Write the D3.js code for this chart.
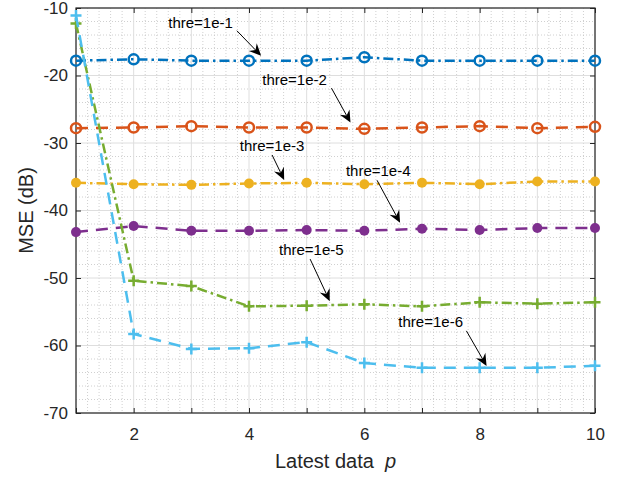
<!DOCTYPE html>
<html>
<head>
<meta charset="utf-8">
<script src="https://cdn.jsdelivr.net/npm/d3@7"></script>
<style>
  body { margin: 0; background: #fff; }
  svg { display: block; font-family: "Liberation Sans", Arial, Helvetica, sans-serif; }
</style>
</head>
<body>
<div id="chart"></div>
<script>
// values
const pValues = [1, 2, 3, 4, 5, 6, 7, 8, 9, 10];
const mse1e1 = [-17.8, -17.6, -17.8, -17.8, -17.8, -17.3, -17.8, -17.8, -17.8, -17.8];
const mse1e2 = [-27.8, -27.7, -27.5, -27.7, -27.7, -27.9, -27.7, -27.5, -27.8, -27.6];
const mse1e3 = [-35.9, -36.1, -36.2, -36.0, -35.9, -36.1, -35.9, -36.1, -35.7, -35.7];
const mse1e4 = [-43.2, -42.3, -43.0, -43.0, -42.9, -43.0, -42.7, -42.9, -42.6, -42.6];
const mse1e5 = [-12.3, -50.4, -51.2, -54.2, -54.1, -53.9, -54.2, -53.6, -53.8, -53.6];
const mse1e6 = [-11.1, -58.3, -60.5, -60.4, -59.5, -62.6, -63.3, -63.3, -63.3, -63.0];

const xTicks = [1, 2, 3, 4, 5, 6, 7, 8, 9, 10];
const xTickLabels = ["", "2", "", "4", "", "6", "", "8", "", "10"];
const yTicks = [-70, -60, -50, -40, -30, -20, -10];

// annotation: label, text anchor point, arrow tail, arrow tip (data units)
const annoLabels = ["thre=1e-1", "thre=1e-2", "thre=1e-3", "thre=1e-4", "thre=1e-5", "thre=1e-6"];
const annoText = [[2.60, -12.97], [4.23, -21.38], [3.84, -31.13], [5.68, -34.88], [4.52, -46.60], [6.59, -57.24]];
const annoTail = [[3.79, -13.37], [5.43, -21.87], [4.40, -31.77], [6.22, -35.52], [5.06, -47.20], [7.77, -57.83]];
const annoTip  = [[4.21, -17.08], [5.76, -26.97], [4.61, -35.47], [6.62, -41.81], [5.40, -53.43], [8.12, -63.03]];

const series = [
  { values: mse1e1, color: "#0072BD", dash: "10,4,2.5,4", marker: "openCircle" },
  { values: mse1e2, color: "#D95319", dash: "12,8", marker: "openCircle" },
  { values: mse1e3, color: "#EDB120", dash: "10,4,2.5,4", marker: "dot" },
  { values: mse1e4, color: "#7E2F8E", dash: "12,8", marker: "dot" },
  { values: mse1e5, color: "#77AC30", dash: "10,4,2.5,4", marker: "plus" },
  { values: mse1e6, color: "#4DBEEE", dash: "12,8", marker: "plus" }
];

const W = 620, H = 477;
const mLeft = 76, mRight = 595, mTop = 8, mBottom = 413;

const svg = d3.select("#chart").append("svg")
  .attr("width", W).attr("height", H);

const x = d3.scaleLinear().domain([1, 10]).range([mLeft, mRight]);
const y = d3.scaleLinear().domain([-70, -10]).range([mBottom, mTop]);

// minor grid
const xMinor = d3.range(1, 10.001, 0.2).filter(v => Math.abs(v - Math.round(v)) > 0.01);
const yMinor = d3.range(-70, -9.99, 2).filter(v => v % 10 !== 0);
const grid = svg.append("g");
grid.selectAll(".xm").data(xMinor).join("line")
  .attr("x1", d => x(d)).attr("x2", d => x(d)).attr("y1", mTop).attr("y2", mBottom)
  .attr("stroke", "#c4c4c4").attr("stroke-width", 0.8).attr("stroke-dasharray", "1,2");
grid.selectAll(".ym").data(yMinor).join("line")
  .attr("y1", d => y(d)).attr("y2", d => y(d)).attr("x1", mLeft).attr("x2", mRight)
  .attr("stroke", "#c4c4c4").attr("stroke-width", 0.8).attr("stroke-dasharray", "1,2");
// major grid
grid.selectAll(".xg").data(xTicks).join("line")
  .attr("x1", d => x(d)).attr("x2", d => x(d)).attr("y1", mTop).attr("y2", mBottom)
  .attr("stroke", "#dedede").attr("stroke-width", 1);
grid.selectAll(".yg").data(yTicks).join("line")
  .attr("y1", d => y(d)).attr("y2", d => y(d)).attr("x1", mLeft).attr("x2", mRight)
  .attr("stroke", "#dedede").attr("stroke-width", 1);

// axes with inward ticks on all four sides
const axisColor = "#262626";
function styleAxis(g) {
  g.select(".domain").remove();
  g.selectAll(".tick line").attr("stroke", axisColor).attr("stroke-width", 1);
  g.selectAll(".tick text").attr("fill", axisColor).attr("font-size", 17)
    .attr("font-family", "Liberation Sans, Arial, sans-serif");
}
svg.append("g").attr("transform", `translate(0,${mBottom})`)
  .call(d3.axisBottom(x).tickValues(xTicks).tickSize(-5).tickPadding(15)
    .tickFormat((d, i) => xTickLabels[i]))
  .call(styleAxis);
svg.append("g").attr("transform", `translate(0,${mTop})`)
  .call(d3.axisTop(x).tickValues(xTicks).tickSize(-5).tickFormat(""))
  .call(styleAxis);
svg.append("g").attr("transform", `translate(${mLeft},0)`)
  .call(d3.axisLeft(y).tickValues(yTicks).tickSize(-5).tickPadding(8)
    .tickFormat(d => String(d)))
  .call(styleAxis);
svg.append("g").attr("transform", `translate(${mRight},0)`)
  .call(d3.axisRight(y).tickValues(yTicks).tickSize(-5).tickFormat(""))
  .call(styleAxis);

svg.append("rect")
  .attr("x", mLeft).attr("y", mTop).attr("width", mRight - mLeft).attr("height", mBottom - mTop)
  .attr("fill", "none").attr("stroke", axisColor).attr("stroke-width", 1.2);

// series
const line = d3.line().x((d, i) => x(pValues[i])).y(d => y(d));
series.forEach(s => {
  const g = svg.append("g");
  g.append("path").datum(s.values)
    .attr("d", line).attr("fill", "none")
    .attr("stroke", s.color).attr("stroke-width", 2.5)
    .attr("stroke-dasharray", s.dash);
  const pts = g.selectAll(".pt").data(s.values).join("g")
    .attr("transform", (d, i) => `translate(${x(pValues[i])},${y(d)})`);
  if (s.marker === "openCircle") {
    pts.append("circle").attr("r", 5).attr("fill", "none")
      .attr("stroke", s.color).attr("stroke-width", 2.5);
  } else if (s.marker === "dot") {
    pts.append("circle").attr("r", 5).attr("fill", s.color);
  } else {
    pts.append("path").attr("d", "M-5.5,0H5.5M0,-5.5V5.5")
      .attr("stroke", s.color).attr("stroke-width", 2.5);
  }
});

// annotations
const anno = svg.append("g");
annoLabels.forEach((lab, i) => {
  anno.append("text")
    .attr("x", x(annoText[i][0])).attr("y", y(annoText[i][1]))
    .attr("font-size", 15).attr("fill", "#000").text(lab);
  const x0 = x(annoTail[i][0]), y0 = y(annoTail[i][1]);
  const x1 = x(annoTip[i][0]), y1 = y(annoTip[i][1]);
  const ang = Math.atan2(y1 - y0, x1 - x0);
  const len = 12, half = 5.5, notch = 8;
  anno.append("line")
    .attr("x1", x0).attr("y1", y0)
    .attr("x2", x1 - notch * Math.cos(ang)).attr("y2", y1 - notch * Math.sin(ang))
    .attr("stroke", "#000").attr("stroke-width", 1);
  const c = Math.cos(ang), sn = Math.sin(ang);
  const pt = (a, b) => [x1 + a * c - b * sn, y1 + a * sn + b * c];
  const head = [pt(0, 0), pt(-len, -half), pt(-notch, 0), pt(-len, half)];
  anno.append("path").attr("d", "M" + head.map(p => p.join(",")).join("L") + "Z")
    .attr("fill", "#000");
});

// axis labels
svg.append("text")
  .attr("x", (mLeft + mRight) / 2).attr("y", 468)
  .attr("text-anchor", "middle").attr("font-size", 20).attr("fill", axisColor)
  .call(t => {
    t.append("tspan").text("Latest data\u00a0\u00a0");
    t.append("tspan").attr("font-style", "italic").text("p");
  });
svg.append("text")
  .attr("transform", `translate(33,${(mTop + mBottom) / 2}) rotate(-90)`)
  .attr("text-anchor", "middle").attr("font-size", 20).attr("fill", axisColor)
  .text("MSE (dB)");
</script>
</body>
</html>
